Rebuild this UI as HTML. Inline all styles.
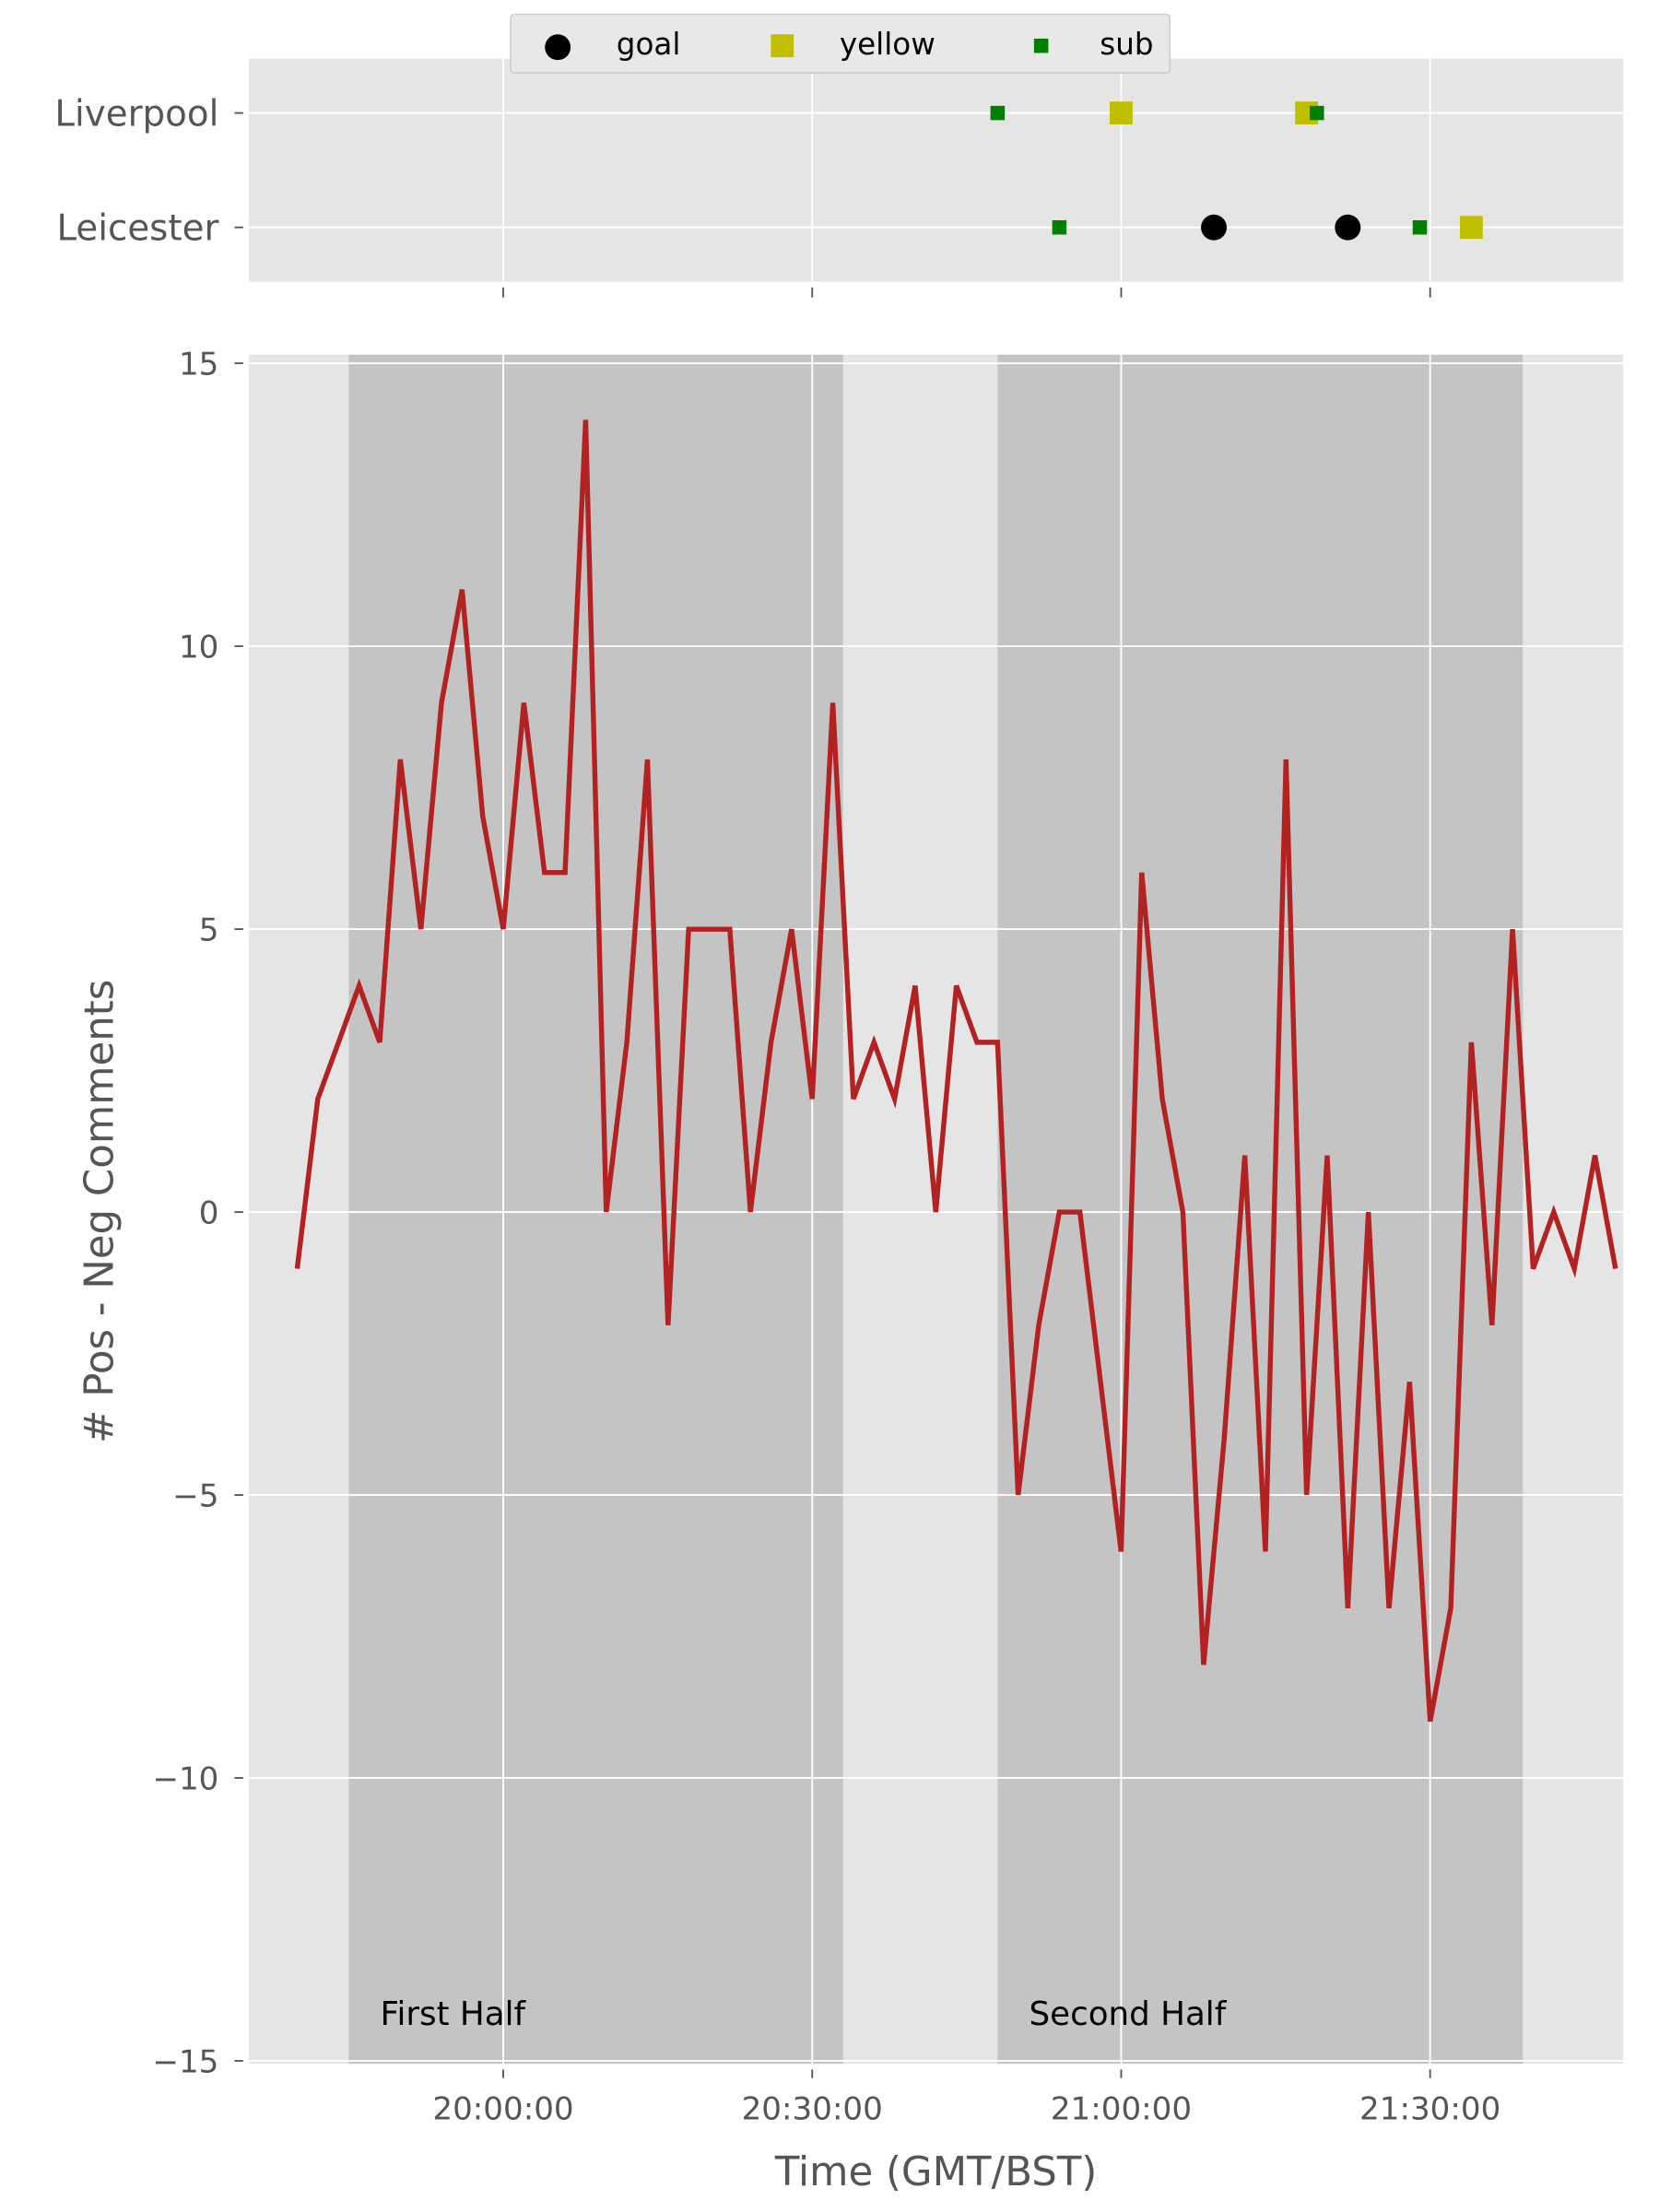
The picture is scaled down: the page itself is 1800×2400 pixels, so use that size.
<!DOCTYPE html>
<html><head><meta charset="utf-8"><style>
html,body{margin:0;padding:0;background:#fff}
svg{display:block}
text{font-family:"DejaVu Sans","Liberation Sans",sans-serif}
</style></head><body>
<svg id="chart" xmlns="http://www.w3.org/2000/svg" width="1800" height="2400" viewBox="0 0 1160 1546.67">
<g id="topPanel"></g>
<g id="mainPanel"></g>
</svg>
<script>
// Sentiment series: minutes offset from 20:00, every 2 minutes starting 19:40
const startMinute = -20;
const stepMinutes = 2;
const sentimentValues = [-1,2,3,4,3,8,5,9,11,7,5,9,6,6,14,0,3,8,-2,5,5,5,0,3,5,2,9,2,3,2,4,0,4,3,3,-5,-2,0,0,-3,-6,6,2,0,-8,-4,1,-6,8,-5,1,-7,0,-7,-3,-9,-7,3,-2,5,-1,0,-1,1,-1];
const yTicks = [15,10,5,0,-5,-10,-15];
const yTickLabels = ["15","10","5","0","\u22125","\u221210","\u221215"];
const xTicks = [0,30,60,90];
const xTickLabels = ["20:00:00","20:30:00","21:00:00","21:30:00"];
const halfStarts = [-15,48];
const halfEnds = [33,99];
const halfLabels = ["First Half","Second Half"];
const teams = ["Liverpool","Leicester"];
const eventTeams = ["Liverpool","Liverpool","Liverpool","Liverpool","Leicester","Leicester","Leicester","Leicester","Leicester"];
const eventTypes = ["sub","yellow","yellow","sub","sub","goal","goal","sub","yellow"];
const eventMinutes = [48,60,78,79,54,69,82,89,94];

const NS="http://www.w3.org/2000/svg";
const L=174,R=1135;
const xMin=-24.7,xMax=108.75;
const X=m=>L+(m-xMin)/(xMax-xMin)*(R-L);
const mT=248,mB=1443;
const Y=v=>254+(15-v)*(1441-254)/30;
function mk(p,tag,a,txt){const e=document.createElementNS(NS,tag);for(const k in a)e.setAttribute(k,a[k]);if(txt!==undefined)e.textContent=txt;p.appendChild(e);return e;}

// ---- top panel
const topG=document.getElementById('topPanel');
const tT=41,tB=197;
const TY=i=>[79,159][i];
let r=mk(topG,'rect',{x:L,y:tT,width:R-L,height:tB-tT,fill:'#e5e5e5'});


xTicks.forEach(m=>{mk(topG,'line',{x1:X(m),x2:X(m),y1:tT,y2:tB,stroke:'#fff','stroke-width':1.2});
 mk(topG,'line',{x1:X(m),x2:X(m),y1:201,y2:208,stroke:'#555','stroke-width':1.2});});
teams.forEach((t,i)=>{mk(topG,'line',{x1:L,x2:R,y1:TY(i),y2:TY(i),stroke:'#fff','stroke-width':1.2});
 mk(topG,'line',{x1:164,x2:170,y1:TY(i),y2:TY(i),stroke:'#555','stroke-width':1.2});
 const tx=mk(topG,'text',{x:153,y:TY(i)+9,'text-anchor':'end','font-size':25,fill:'#555'},t);
 
 });
function marker(p,type,cx,cy){
 if(type==='goal')return mk(p,'circle',{cx:cx,cy:cy,r:9,fill:'#000'});
 if(type==='yellow')return mk(p,'rect',{x:cx-8,y:cy-8,width:16,height:16,fill:'#bfbf00'});
 return mk(p,'rect',{x:cx-5,y:cy-5,width:10,height:10,fill:'#008000'});
}
eventMinutes.forEach((m,i)=>{const e=marker(topG,eventTypes[i],X(m),TY(teams.indexOf(eventTeams[i])));
 
 });
// legend
const lg=mk(topG,'g',{});


mk(lg,'rect',{x:357,y:10,width:461,height:41,rx:3,fill:'#e8e8e8',stroke:'#ccc','stroke-width':1});
[["goal",390,431],["yellow",547,587],["sub",728,769]].forEach(([n,mx,tx])=>{
 const m=marker(lg,n,mx,n==='goal'?33:32);
 
 
 const t=mk(lg,'text',{x:tx,y:38,'font-size':21,fill:'#000'},n);
 
 });

// ---- main panel
const mainG=document.getElementById('mainPanel');
r=mk(mainG,'rect',{x:L,y:mT,width:R-L,height:mB-mT,fill:'#e5e5e5'});


halfStarts.forEach((s,i)=>{const b=mk(mainG,'rect',{x:X(s),y:mT,width:X(halfEnds[i])-X(s),height:mB-mT,fill:'#c4c4c4'});
 
 });
yTicks.forEach((v,i)=>{mk(mainG,'line',{x1:L,x2:R,y1:Y(v),y2:Y(v),stroke:'#fff','stroke-width':1.2});
 mk(mainG,'line',{x1:164,x2:170,y1:Y(v),y2:Y(v),stroke:'#555','stroke-width':1.2});
 const t=mk(mainG,'text',{x:153,y:Y(v)+8,'text-anchor':'end','font-size':22,fill:'#555'},yTickLabels[i]);
 
 });
xTicks.forEach((m,i)=>{mk(mainG,'line',{x1:X(m),x2:X(m),y1:mT,y2:mB,stroke:'#fff','stroke-width':1.2});
 mk(mainG,'line',{x1:X(m),x2:X(m),y1:1447,y2:1453,stroke:'#555','stroke-width':1.2});
 const t=mk(mainG,'text',{x:X(m),y:1482,'text-anchor':'middle','font-size':22,fill:'#555'},xTickLabels[i]);
 
 });
halfStarts.forEach((s,i)=>{const t=mk(mainG,'text',{x:X(s)+22,y:1416,'font-size':23,fill:'#000'},halfLabels[i]);
 
 });
const pts=sentimentValues.map((v,i)=>X(startMinute+i*stepMinutes).toFixed(1)+','+Y(v).toFixed(1)).join(' ');
const line=mk(mainG,'polyline',{points:pts,fill:'none',stroke:'#b22222','stroke-width':3.5,'stroke-linejoin':'miter'});


let tt=mk(mainG,'text',{x:(L+R)/2,y:1528,'text-anchor':'middle','font-size':28,fill:'#555'},'Time (GMT/BST)');


tt=mk(mainG,'text',{x:0,y:0,'text-anchor':'middle','font-size':28,fill:'#555',transform:'translate(79,847) rotate(-90)'},'# Pos - Neg Comments');


</script>
</body></html>
